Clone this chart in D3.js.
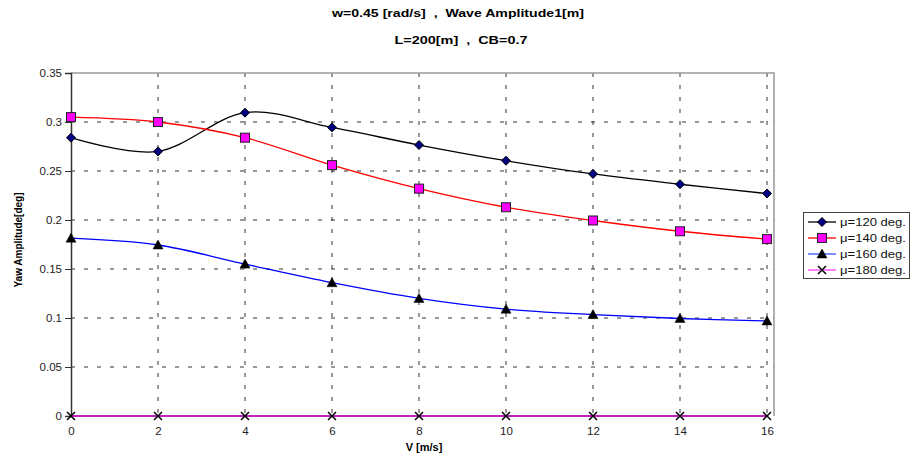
<!DOCTYPE html>
<html>
<head>
<meta charset="utf-8">
<script src="https://cdn.jsdelivr.net/npm/d3@7"></script>
<style>
  body { margin: 0; background: #fff; }
  text { font-family: Arial, "Liberation Sans", sans-serif; white-space: pre; }
</style>
</head>
<body>
<script>
// Chart data
var speeds = [0, 2, 4, 6, 8, 10, 12, 14, 16];
var mu120 = [0.284, 0.270, 0.3095, 0.2945, 0.2765, 0.2605, 0.247, 0.2365, 0.227];
var mu140 = [0.305, 0.300, 0.284, 0.256, 0.232, 0.213, 0.1995, 0.1885, 0.1805];
var mu160 = [0.1815, 0.1745, 0.155, 0.136, 0.120, 0.109, 0.1035, 0.0995, 0.097];
var mu180 = [0, 0, 0, 0, 0, 0, 0, 0, 0];
var seriesNames = ["\u03bc=120 deg.", "\u03bc=140 deg.", "\u03bc=160 deg.", "\u03bc=180 deg."];
var yTicks = [0, 0.05, 0.1, 0.15, 0.2, 0.25, 0.3, 0.35];

var width = 912, height = 456;
var plotLeft = 71, plotRight = 774, plotTop = 73, plotBottom = 416;

var svg = d3.select("body").append("svg")
            .attr("width", width)
            .attr("height", height);

var x = d3.scaleLinear().domain([0, 16]).range([plotLeft, 767]);
var y = d3.scaleLinear().domain([0, 0.35]).range([plotBottom, plotTop]);

// Titles
svg.append("text")
   .attr("x", 458).attr("y", 17)
   .attr("text-anchor", "middle")
   .attr("textLength", 252).attr("lengthAdjust", "spacingAndGlyphs")
   .style("font-size", "11px").style("font-weight", "bold")
   .text("w=0.45 [rad/s]  ,  Wave Amplitude1[m]");
svg.append("text")
   .attr("x", 461).attr("y", 44)
   .attr("text-anchor", "middle")
   .attr("textLength", 133).attr("lengthAdjust", "spacingAndGlyphs")
   .style("font-size", "11px").style("font-weight", "bold")
   .text("L=200[m]  ,  CB=0.7");

// Gridlines
var grid = svg.append("g").attr("class", "grid");
grid.selectAll("line.h")
    .data(yTicks.filter(function(d){ return d > 0 && d < 0.35; }))
    .enter().append("line")
    .attr("x1", plotLeft).attr("x2", plotRight)
    .attr("y1", function(d){ return y(d); })
    .attr("y2", function(d){ return y(d); })
    .style("stroke", "#333").style("stroke-width", 1)
    .style("stroke-dasharray", "4,9");
grid.selectAll("line.v")
    .data(speeds.filter(function(d){ return d > 0; }))
    .enter().append("line")
    .attr("x1", function(d){ return x(d); })
    .attr("x2", function(d){ return x(d); })
    .attr("y1", plotTop).attr("y2", plotBottom)
    .style("stroke", "#333").style("stroke-width", 1)
    .style("stroke-dasharray", "4,8");

// Plot frame (top and right in grey)
svg.append("path")
   .attr("d", "M" + plotLeft + "," + plotTop + "H" + plotRight + "V" + plotBottom)
   .style("fill", "none").style("stroke", "#999").style("stroke-width", 1.5);

// Y axis
var yAxis = d3.axisLeft(y)
              .tickValues(yTicks)
              .tickSize(6)
              .tickFormat(function(d){ return d3.format("")(+d.toFixed(2)); });
var gy = svg.append("g")
   .attr("transform", "translate(" + plotLeft + ",0)")
   .call(yAxis);
gy.select(".domain").style("stroke", "#333").style("stroke-width", 1.5);
gy.selectAll(".tick line").style("stroke", "#333");
gy.selectAll("text").style("font-size", "11.5px").style("fill", "#222")
  .attr("x", -9);

// X axis labels
var xAxis = d3.axisBottom(x).tickValues(speeds).tickSize(0).tickPadding(11);
var gx = svg.append("g")
   .attr("transform", "translate(0," + plotBottom + ")")
   .call(xAxis);
gx.select(".domain").remove();
gx.selectAll("text").style("font-size", "11.5px").style("fill", "#222");

// Axis titles
svg.append("text")
   .attr("x", 424).attr("y", 451)
   .attr("text-anchor", "middle")
   .style("font-size", "11px").style("font-weight", "bold")
   .text("V [m/s]");
svg.append("text")
   .attr("transform", "translate(22,240) rotate(-90)")
   .attr("text-anchor", "middle")
   .attr("textLength", 95)
   .attr("lengthAdjust", "spacingAndGlyphs")
   .style("font-size", "11px").style("font-weight", "bold")
   .text("Yaw Amplitude[deg]");

// Series
var series = [
  {name: seriesNames[0], values: mu120, color: "#000000", legendColor: "#000000", marker: "diamond", fill: "#000080"},
  {name: seriesNames[1], values: mu140, color: "#ff0000", legendColor: "#ff0000", marker: "square", fill: "#ff00ff"},
  {name: seriesNames[2], values: mu160, color: "#0000ff", legendColor: "#3355ff", marker: "triangle", fill: "#000000"},
  {name: seriesNames[3], values: mu180, color: "#c020c0", legendColor: "#ff40ff", marker: "cross", fill: "none"}
];

var line = d3.line()
             .x(function(d, i){ return x(speeds[i]); })
             .y(function(d){ return y(d); })
             .curve(d3.curveCardinal.tension(0));

function drawMarker(g, type, cx, cy, fill) {
  if (type == "diamond") {
    g.append("path")
     .attr("d", "M" + cx + "," + (cy - 4.5) + "L" + (cx + 4.5) + "," + cy + "L" + cx + "," + (cy + 4.5) + "L" + (cx - 4.5) + "," + cy + "Z")
     .style("fill", fill).style("stroke", "#000").style("stroke-width", 1);
  } else if (type == "square") {
    g.append("rect")
     .attr("x", cx - 4.5).attr("y", cy - 4.5)
     .attr("width", 9).attr("height", 9)
     .style("fill", fill).style("stroke", "#222").style("stroke-width", 1);
  } else if (type == "triangle") {
    g.append("path")
     .attr("d", "M" + cx + "," + (cy - 5) + "L" + (cx + 5) + "," + (cy + 4) + "L" + (cx - 5) + "," + (cy + 4) + "Z")
     .style("fill", fill).style("stroke", "#000").style("stroke-width", 0.5);
  } else {
    g.append("path")
     .attr("d", "M" + (cx - 4) + "," + (cy - 4) + "L" + (cx + 4) + "," + (cy + 4) + "M" + (cx + 4) + "," + (cy - 4) + "L" + (cx - 4) + "," + (cy + 4))
     .style("fill", "none").style("stroke", "#000").style("stroke-width", 1.5);
  }
}

var plot = svg.append("g").attr("class", "series");
series.forEach(function(s){
  plot.append("path")
      .datum(s.values)
      .attr("d", line)
      .style("fill", "none")
      .style("stroke", s.color)
      .style("stroke-width", s.marker == "cross" ? 2 : 1.3);
});
series.forEach(function(s){
  var mg = plot.append("g");
  s.values.forEach(function(v, i){
    drawMarker(mg, s.marker, x(speeds[i]), y(v), s.fill);
  });
});

// Legend
var legend = svg.append("g").attr("class", "legend");
legend.append("rect")
      .attr("x", 803.5).attr("y", 212.5)
      .attr("width", 106).attr("height", 66)
      .style("fill", "#fff").style("stroke", "#444").style("stroke-width", 1);
series.forEach(function(s, i){
  var ly = 222 + i * 16;
  legend.append("line")
        .attr("x1", 808).attr("x2", 836)
        .attr("y1", ly).attr("y2", ly)
        .style("stroke", s.legendColor).style("stroke-width", 1.3);
  drawMarker(legend, s.marker, 822, ly, s.fill);
  legend.append("text")
        .attr("x", 840).attr("y", ly + 4)
        .attr("textLength", 66).attr("lengthAdjust", "spacingAndGlyphs")
        .style("font-size", "11px").style("fill", "#111")
        .text(s.name);
});
</script>
</body>
</html>
